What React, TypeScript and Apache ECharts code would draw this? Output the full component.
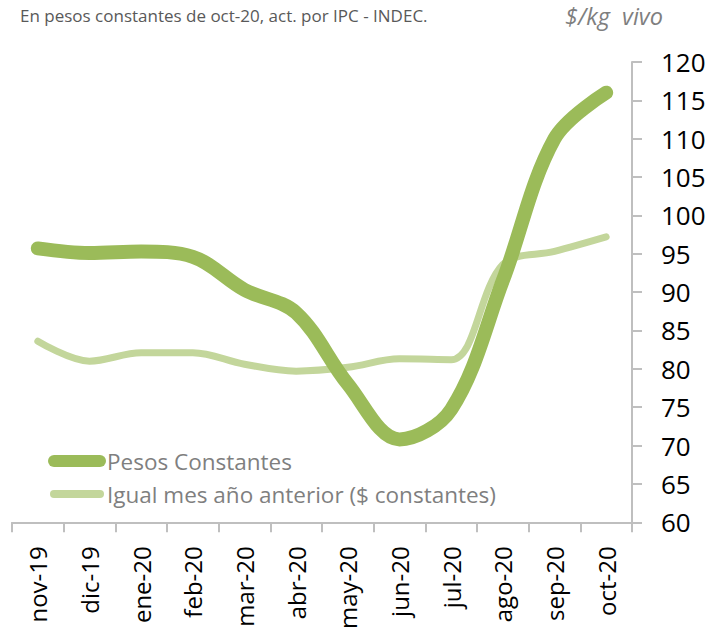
import React, { useEffect, useRef } from "react";
import * as echarts from "echarts";

const categories = ["nov-19", "dic-19", "ene-20", "feb-20", "mar-20", "abr-20", "may-20", "jun-20", "jul-20", "ago-20", "sep-20", "oct-20"];
const pesosConstantes = [95.7, 95.1, 95.3, 94.6, 90.3, 87.3, 78.0, 70.8, 74.7, 91.5, 110.0, 116.0];
const igualMesAnterior = [83.6, 81.0, 82.1, 82.1, 80.6, 79.7, 80.2, 81.3, 81.2, 93.6, 95.3, 97.2];
const seriesNames = ["Pesos Constantes", "Igual mes año anterior ($ constantes)"];
const titleText = "En pesos constantes de oct-20, act. por IPC - INDEC.";
const unitText = "$/kg  vivo";

const DARK = "#9bbb59";
const LIGHT = "#c3d69b";
const FONT = "'Open Sans', 'Noto Sans', sans-serif";

export default function App() {
  const ref = useRef<HTMLDivElement>(null);
  useEffect(() => {
    if (!ref.current) return;
    const chart = echarts.init(ref.current, undefined, { renderer: "svg" });
    chart.setOption({
      animation: false,
      backgroundColor: "#ffffff",
      grid: { left: 12, right: 81, top: 62, bottom: 109, containLabel: false },
      xAxis: {
        type: "category",
        data: categories,
        boundaryGap: true,
        axisLine: { show: true, lineStyle: { color: "#bfbfbf", width: 2 } },
        axisTick: { show: true, length: 10, lineStyle: { color: "#bfbfbf", width: 2 } },
        axisLabel: { rotate: 90, margin: 24, fontSize: 24, color: "#000", fontFamily: FONT },
        splitLine: { show: false },
      },
      yAxis: {
        type: "value",
        position: "right",
        min: 60,
        max: 120,
        interval: 5,
        axisLine: { show: true, lineStyle: { color: "#bfbfbf", width: 2 } },
        axisTick: { show: true, length: 10, inside: false, lineStyle: { color: "#bfbfbf", width: 2 } },
        axisLabel: { margin: 29, fontSize: 26, color: "#000", fontFamily: FONT },
        splitLine: { show: false },
      },
      series: [
        {
          name: seriesNames[1],
          type: "line",
          data: igualMesAnterior,
          smooth: 0.35,
          symbol: "none",
          lineStyle: { color: LIGHT, width: 7, cap: "round", join: "round" },
          z: 2,
        },
        {
          name: seriesNames[0],
          type: "line",
          data: pesosConstantes,
          smooth: 0.35,
          symbol: "none",
          lineStyle: { color: DARK, width: 14, cap: "round", join: "round" },
          z: 3,
        },
      ],
      graphic: [
        {
          type: "text",
          left: 20,
          top: 7,
          style: { text: titleText, fontSize: 17, fill: "#595959", fontFamily: FONT },
        },
        {
          type: "text",
          left: 565,
          top: 4,
          style: { text: unitText, fontSize: 23.5, fill: "#7f7f7f", fontStyle: "italic", fontFamily: FONT },
        },
        {
          type: "line",
          shape: { x1: 54, y1: 461, x2: 100, y2: 461 },
          style: { stroke: DARK, lineWidth: 12, lineCap: "round" },
          z: 10,
        },
        {
          type: "text",
          x: 107,
          y: 461,
          style: { text: seriesNames[0], fontSize: 22.5, fill: "#7f7f7f", fontFamily: FONT, textVerticalAlign: "middle" },
          z: 10,
        },
        {
          type: "line",
          shape: { x1: 54, y1: 494, x2: 100, y2: 494 },
          style: { stroke: LIGHT, lineWidth: 8, lineCap: "round" },
          z: 10,
        },
        {
          type: "text",
          x: 107,
          y: 494,
          style: { text: seriesNames[1], fontSize: 22.5, fill: "#7f7f7f", fontFamily: FONT, textVerticalAlign: "middle" },
          z: 10,
        },
      ],
    });
    return () => chart.dispose();
  }, []);
  return (
    <div
      ref={ref}
      style={{ position: "fixed", left: 0, top: 0, width: 713, height: 632, background: "#fff" }}
    />
  );
}
